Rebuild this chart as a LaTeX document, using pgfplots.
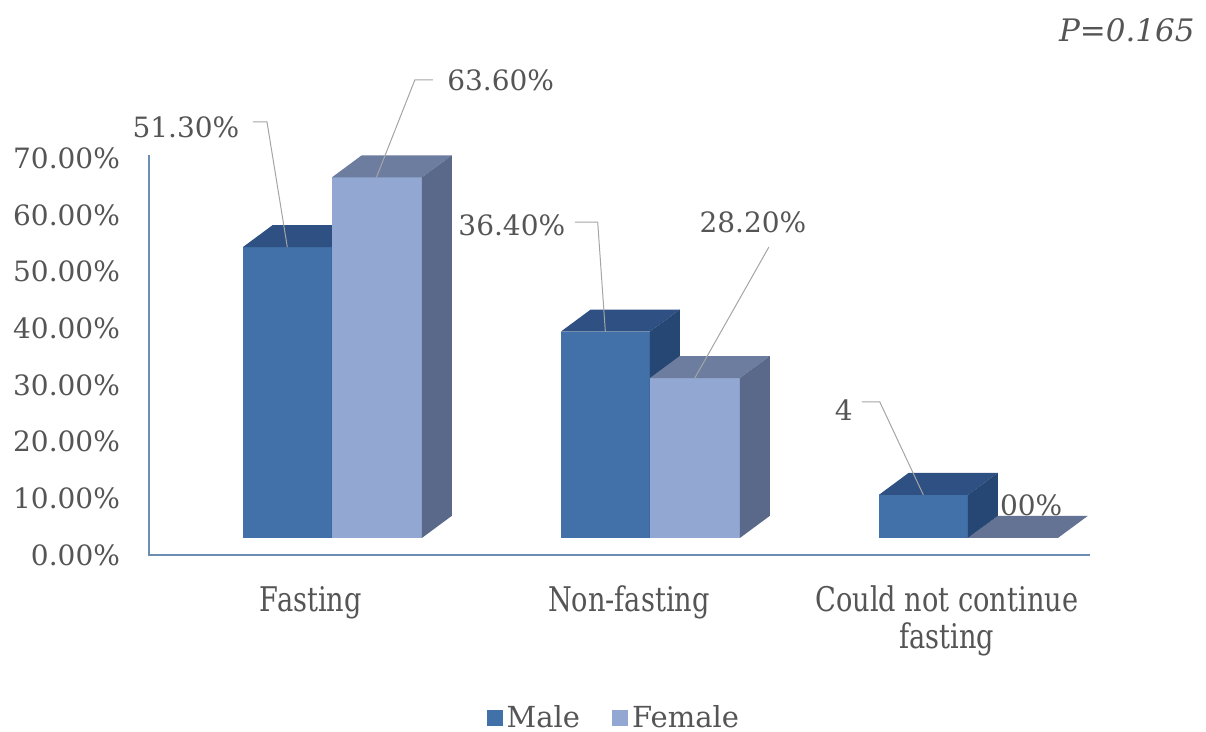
\documentclass[border=0pt]{standalone}
\usepackage{pgfplots}
\pgfplotsset{compat=1.18}
\usepackage{fontspec}
\setmainfont{DejaVu Serif}
\newfontfamily\condfont[FakeStretch=0.8]{DejaVu Serif}
\definecolor{txt}{RGB}{85,85,85}
\definecolor{mfront}{RGB}{66,112,168}
\definecolor{mtop}{RGB}{46,80,130}
\definecolor{mside}{RGB}{38,70,115}
\definecolor{ffront}{RGB}{146,167,209}
\definecolor{ftop}{RGB}{108,125,160}
\definecolor{fside}{RGB}{90,105,137}
\definecolor{fflat}{RGB}{100,114,148}
\definecolor{axcol}{RGB}{108,142,178}
\definecolor{lead}{RGB}{165,165,165}
\begin{document}
\begin{tikzpicture}
\useasboundingbox (0,0) rectangle (603pt,-366pt);
\node[anchor=east, inner sep=0pt, text=txt, font=\itshape\fontsize{15.5}{18}\selectfont] at (597.5pt,-15pt) {P=0.165};
\begin{axis}[
  at={(74.5pt,-277.5pt)}, anchor=south west,
  scale only axis, width=470.5pt, height=208.35pt,
  xmin=-0.575, xmax=2.384, ymin=-3, ymax=70.5,
  clip=false,
  axis line style={draw=none},
  tick style={draw=none},
  major tick length=0pt,
  xtick={0,1,2},
  xticklabels={Fasting,Non-fasting,{Could not continue\\fasting}},
  xticklabel style={align=center, text=txt, font=\condfont\fontsize{17}{18.5}\selectfont, xshift=-10.5pt, yshift=-12pt},
  ytick={0,10,20,30,40,50,60,70},
  yticklabels={0.00\%,10.00\%,20.00\%,30.00\%,40.00\%,50.00\%,60.00\%,70.00\%},
  yticklabel style={text=txt, font=\fontsize{14}{16}\selectfont, xshift=-11pt, yshift=-8.5pt},
  legend style={at={(0.495,-0.391)}, anchor=center, draw=none, fill=none,
    legend columns=2, text=txt, font=\fontsize{14.5}{16}\selectfont,
    /tikz/every even column/.append style={column sep=14pt}},
  legend image code/.code={\fill[#1] (0pt,-4pt) rectangle (8pt,4pt);},
]
% axis lines
\draw[axcol, line width=1.3pt] (axis cs:-0.575,67.5) -- (axis cs:-0.575,-3) -- (axis cs:2.384,-3);

% ---- Fasting: Male 51.3, Female 63.6
\addplot[fill=mfront, draw=none] coordinates {(-0.28,0) (0,0) (0,51.3) (-0.28,51.3)} --cycle;
\addlegendentry{Male}
\addplot[fill=mtop, draw=none, forget plot] coordinates {(-0.28,51.3) (0,51.3) (0.094,55.2) (-0.186,55.2)} --cycle;
\addplot[fill=mside, draw=none, forget plot] coordinates {(0,0) (0,51.3) (0.094,55.2) (0.094,3.9)} --cycle;
\addplot[fill=ffront, draw=none] coordinates {(0,0) (0.283,0) (0.283,63.6) (0,63.6)} --cycle;
\addlegendentry{Female}
\addplot[fill=ftop, draw=none, forget plot] coordinates {(0,63.6) (0.283,63.6) (0.377,67.5) (0.094,67.5)} --cycle;
\addplot[fill=fside, draw=none, forget plot] coordinates {(0.283,0) (0.283,63.6) (0.377,67.5) (0.377,3.9)} --cycle;

% ---- Non-fasting: Male 36.4, Female 28.2
\addplot[fill=mfront, draw=none, forget plot] coordinates {(0.72,0) (1,0) (1,36.4) (0.72,36.4)} --cycle;
\addplot[fill=mtop, draw=none, forget plot] coordinates {(0.72,36.4) (1,36.4) (1.094,40.3) (0.814,40.3)} --cycle;
\addplot[fill=mside, draw=none, forget plot] coordinates {(1,0) (1,36.4) (1.094,40.3) (1.094,3.9)} --cycle;
\addplot[fill=ffront, draw=none, forget plot] coordinates {(1,0) (1.283,0) (1.283,28.2) (1,28.2)} --cycle;
\addplot[fill=ftop, draw=none, forget plot] coordinates {(1,28.2) (1.283,28.2) (1.377,32.1) (1.094,32.1)} --cycle;
\addplot[fill=fside, draw=none, forget plot] coordinates {(1.283,0) (1.283,28.2) (1.377,32.1) (1.377,3.9)} --cycle;

% ---- Could not continue fasting: Male 7.6, Female 0
\addplot[fill=fflat, draw=none, forget plot] coordinates {(2,0) (2.283,0) (2.377,3.9) (2.094,3.9)} --cycle;
\node[text=txt, font=\fontsize{14}{16}\selectfont] at (axis cs:2.157,5.8) {0.00\%};
\addplot[fill=mfront, draw=none, forget plot] coordinates {(1.72,0) (2,0) (2,7.6) (1.72,7.6)} --cycle;
\addplot[fill=mtop, draw=none, forget plot] coordinates {(1.72,7.6) (2,7.6) (2.094,11.5) (1.814,11.5)} --cycle;
\addplot[fill=mside, draw=none, forget plot] coordinates {(2,0) (2,7.6) (2.094,11.5) (2.094,3.9)} --cycle;

% ---- data labels with leader lines
\begin{scope}[every node/.style={text=txt, font=\fontsize{14}{16}\selectfont}]
\draw[lead, line width=0.5pt] (axis cs:-0.248,73.4) -- (axis cs:-0.204,73.4) -- (axis cs:-0.14,51.3);
\node at (axis cs:-0.459,72.5) {51.30\%};
\draw[lead, line width=0.5pt] (axis cs:0.318,80.8) -- (axis cs:0.261,80.8) -- (axis cs:0.14,63.6);
\node at (axis cs:0.531,80.8) {63.60\%};
\draw[lead, line width=0.5pt] (axis cs:0.764,55.7) -- (axis cs:0.836,55.7) -- (axis cs:0.86,36.4);
\node at (axis cs:0.566,55.2) {36.40\%};
\draw[lead, line width=0.5pt] (axis cs:1.374,51.3) -- (axis cs:1.141,28.2);
\node at (axis cs:1.324,55.7) {28.20\%};
\draw[lead, line width=0.5pt] (axis cs:1.667,24.0) -- (axis cs:1.723,24.0) -- (axis cs:1.86,7.6);
\node at (axis cs:1.610,22.6) {4};
\end{scope}
\end{axis}
\end{tikzpicture}
\end{document}
